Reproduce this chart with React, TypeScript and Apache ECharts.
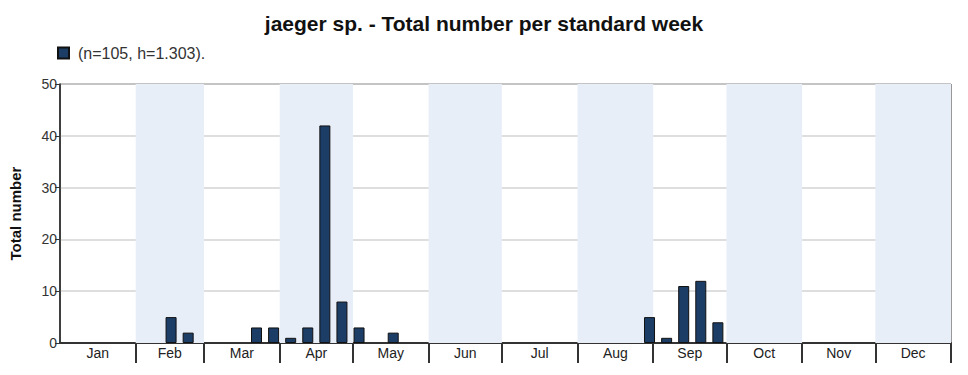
import React, { useEffect, useRef } from "react";
import * as echarts from "echarts";

const title = "jaeger sp. - Total number per standard week";
const seriesName = "(n=105, h=1.303).";
const yAxisName = "Total number";
const monthNames = ["Jan", "Feb", "Mar", "Apr", "May", "Jun", "Jul", "Aug", "Sep", "Oct", "Nov", "Dec"];
const monthDays = [31, 28, 31, 30, 31, 30, 31, 31, 30, 31, 30, 31];
const weeks = [7, 8, 12, 13, 14, 15, 16, 17, 18, 20, 35, 36, 37, 38, 39];
const counts = [5, 2, 3, 3, 1, 3, 42, 8, 3, 2, 5, 1, 11, 12, 4];
const yTicks = [0, 10, 20, 30, 40, 50];

export default function App() {
  const ref = useRef<HTMLDivElement>(null);
  useEffect(() => {
    if (!ref.current) return;
    const chart = echarts.init(ref.current, null, { renderer: "svg" });

    const starts: number[] = [];
    const ends: number[] = [];
    let acc = 0;
    monthDays.forEach((d) => {
      starts.push(acc);
      acc += d;
      ends.push(acc);
    });
    const mids = starts.map((s, i) => (s + ends[i]) / 2);
    const labelMap: Record<string, string> = {};
    mids.forEach((m, i) => (labelMap[String(m)] = monthNames[i]));

    const shaded = monthNames
      .map((_, i) => i)
      .filter((i) => i % 2 === 1)
      .map((i) => [{ xAxis: starts[i] }, { xAxis: ends[i] }]);

    const barData = weeks.map((w, i) => [(w - 1) * 7 + 3.5, counts[i]]);

    chart.setOption({
      animation: false,
      textStyle: { fontFamily: "Liberation Sans, Arial, sans-serif" },
      title: {
        text: title,
        left: "center",
        top: 8,
        textStyle: { fontSize: 21, fontWeight: "bold", color: "#111", fontFamily: "Liberation Sans, Arial, sans-serif" },
      },
      legend: {
        data: [seriesName],
        left: 52,
        top: 40,
        icon: "rect",
        itemWidth: 11,
        itemHeight: 11,
        itemGap: 8,
        textStyle: { fontSize: 16, color: "#333", padding: [0, 0, 0, 4], fontFamily: "Liberation Sans, Arial, sans-serif" },
      },
      grid: {
        left: 59,
        right: 17,
        top: 84,
        bottom: 32,
        show: true,
        borderColor: "#333",
        borderWidth: 1,
        backgroundColor: "transparent",
      },
      xAxis: {
        type: "value",
        min: 0,
        max: acc,
        splitLine: { show: false },
        axisLine: { show: true, lineStyle: { color: "#333", width: 2 } },
        axisTick: {
          show: true,
          customValues: ends,
          length: 20,
          lineStyle: { color: "#333", width: 2 },
        },
        axisLabel: {
          customValues: mids,
          formatter: (v: number) => labelMap[String(v)] ?? "",
          fontSize: 14,
          color: "#222",
          margin: 3,
        },
      },
      yAxis: {
        type: "value",
        min: 0,
        max: 50,
        interval: 10,
        name: yAxisName,
        nameLocation: "middle",
        nameRotate: 90,
        nameGap: 37,
        nameTextStyle: { fontSize: 15, fontWeight: "bold", color: "#111" },
        axisLine: { show: true, lineStyle: { color: "#222", width: 1.5 } },
        axisTick: { show: true, length: 5, lineStyle: { color: "#333" } },
        axisLabel: { fontSize: 14, color: "#333", margin: 3 },
        splitLine: { show: true, lineStyle: { color: "#d3d3d3", width: 1.5 } },
      },
      series: [
        {
          name: "shade",
          type: "line",
          data: [],
          silent: true,
          z: 0,
          markArea: {
            silent: true,
            itemStyle: { color: "#e8eef8" },
            data: shaded,
          },
        },
        {
          name: seriesName,
          type: "bar",
          data: barData,
          barWidth: 11,
          z: 3,
          itemStyle: { color: "#1c3d66", borderColor: "#111", borderWidth: 1 },
        },
      ],
    });
    return () => chart.dispose();
  }, []);
  return <div ref={ref} style={{ position: "absolute", left: 0, top: 0, width: 968, height: 375 }} />;
}
